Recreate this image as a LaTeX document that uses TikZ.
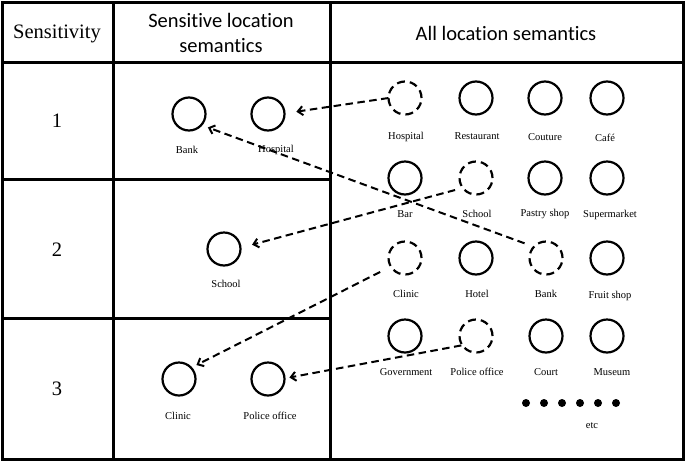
\documentclass[tikz,border=0pt]{standalone}
\usepackage{fontspec}
\setmainfont{Liberation Serif}
\newfontfamily\hdrfont[Ligatures={NoCommon}]{Carlito}
\usetikzlibrary{arrows.meta}
\begin{document}
\begin{tikzpicture}[x=1pt,y=-1pt,
  gridline/.style={line width=3pt},
  loc/.style={circle,draw,line width=2.2pt,minimum size=33pt,inner sep=0pt,outer sep=0pt},
  sloc/.style={loc,dash pattern=on 8pt off 5pt},
  lbl/.style={font=\fontsize{10.5}{12}\selectfont,inner sep=0pt},
  arr/.style={line width=2pt,dash pattern=on 7.5pt off 4.5pt,
    -{Straight Barb[length=5pt,width=9pt,line width=2pt]}},
  hd/.style={font=\hdrfont\fontsize{20.5}{25}\selectfont,align=center,inner sep=0pt},
  sr/.style={font=\fontsize{20.5}{24}\selectfont,inner sep=0pt},
  dot/.style={circle,fill,minimum size=8pt,inner sep=0pt}
]
\useasboundingbox (0,0) rectangle (685,461);
% table
\draw[gridline] (2,2) rectangle (683,459);
\draw[gridline] (2,62) -- (683,62);
\draw[gridline] (113,2) -- (113,459);
\draw[gridline] (330,2) -- (330,459);
\draw[gridline] (2,179) -- (330,179);
\draw[gridline] (2,318) -- (330,318);
% headers
\node[sr] (hsens) at (57,34) {Sensitivity};
\node[hd] (hsl) at (221,33) {Sensitive location\\semantics};
\node[hd] (hall) at (506,33) {All location semantics};
\node[sr] (r1) at (57,121) {1};
\node[sr] (r2) at (57,250) {2};
\node[sr] (r3) at (57,389) {3};
% sensitive semantics
\node[loc] (bank) at (189,114) {};
\node[loc] (hosp) at (268,114) {};
\node[loc] (school) at (224,249) {};
\node[loc] (clinic) at (179,379) {};
\node[loc] (police) at (268,379) {};
\node[lbl] (lbank) at (187,150) {Bank};
\node[lbl] (lhosp) at (276,150) {Hospital};
\node[lbl] (lschool) at (226,284) {School};
\node[lbl] (lclinic) at (178,416) {Clinic};
\node[lbl] (lpolice) at (270,416) {Police office};
% all semantics
\node[sloc] (hospD) at (405,98) {};
\node[loc] (rest) at (476,98) {};
\node[loc] (cout) at (545,98) {};
\node[loc] (cafe) at (607,98) {};
\node[loc] (bar) at (405,178) {};
\node[sloc] (schoolD) at (476,178) {};
\node[loc] (pastry) at (545,178) {};
\node[loc] (super) at (607,178) {};
\node[sloc] (clinicD) at (405,258) {};
\node[loc] (hotel) at (476,258) {};
\node[sloc] (bankD) at (546,258) {};
\node[loc] (fruit) at (607,258) {};
\node[loc] (gov) at (405,336) {};
\node[sloc] (policeD) at (476,336) {};
\node[loc] (court) at (546,336) {};
\node[loc] (museum) at (607,336) {};
\node[lbl] (lhospD) at (406,137) {Hospital};
\node[lbl] (lrest) at (477,136) {Restaurant};
\node[lbl] (lcout) at (545,137) {Couture};
\node[lbl] (lcafe) at (605,138) {Café};
\node[lbl] (lbar) at (405,214) {Bar};
\node[lbl] (lschoolD) at (477,214) {School};
\node[lbl] (lpastry) at (545,214) {Pastry shop};
\node[lbl] (lsuper) at (610,215) {Supermarket};
\node[lbl] (lclinicD) at (406,294) {Clinic};
\node[lbl] (lhotel) at (477,294) {Hotel};
\node[lbl] (lbankD) at (546,294) {Bank};
\node[lbl] (lfruit) at (610,296) {Fruit shop};
\node[lbl] (lgov) at (406,372) {Government};
\node[lbl] (lpoliceD) at (477,372) {Police office};
\node[lbl] (lcourt) at (546,372) {Court};
\node[lbl] (lmuseum) at (612,372) {Museum};
\foreach \i in {0,...,5} {\node[dot] (d\i) at (526+18*\i,403) {};}
\node[lbl] (etc) at (592,426) {etc};
% arrows
\draw[arr,shorten >=12pt] (hospD.180) -- (hosp.2);
\draw[arr,shorten <=10pt,shorten >=7pt] (bankD.137) -- (bank.-42);
\draw[arr,shorten <=8pt,shorten >=12pt] (schoolD.217) -- (school.4);
\draw[arr,shorten <=12pt,shorten >=6pt] (clinicD.211) -- (clinic.43);
\draw[arr,shorten <=1pt,shorten >=5pt] (policeD.214) -- (police.2);
\end{tikzpicture}
\end{document}
